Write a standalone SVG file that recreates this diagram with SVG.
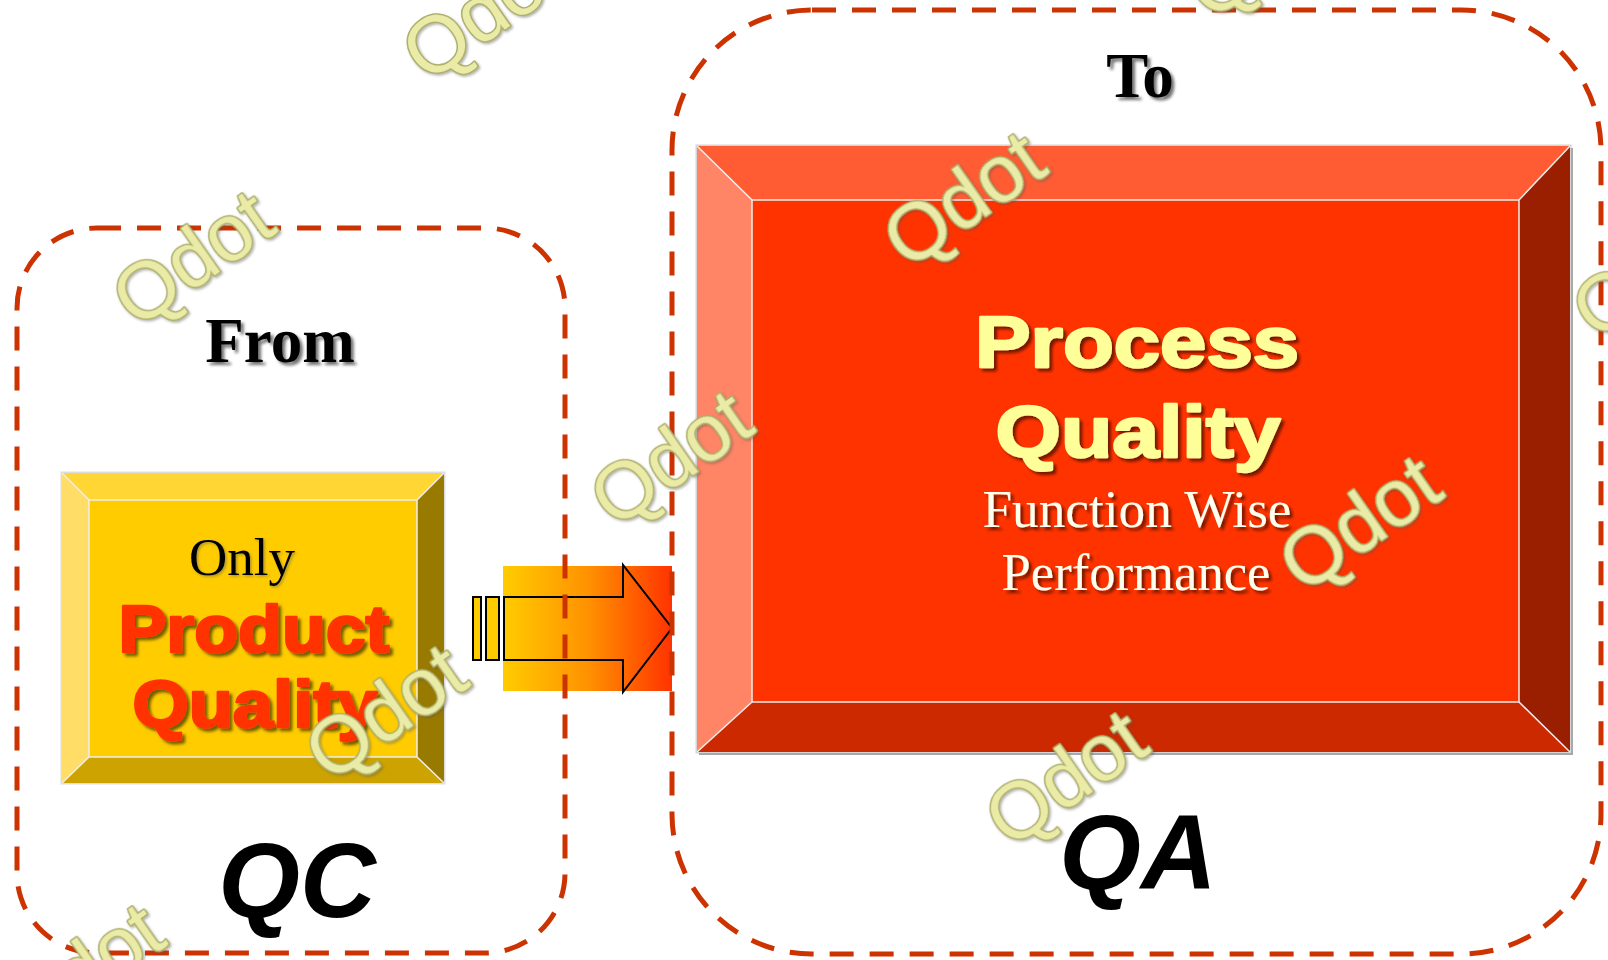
<svg xmlns="http://www.w3.org/2000/svg" width="1608" height="960" viewBox="0 0 1608 960">
  <style>
    .frame { fill: none; stroke: #CC3300; stroke-width: 5; stroke-dasharray: 24 16; }
    .head { font-family: "Liberation Serif", "Times New Roman", serif; font-weight: bold; font-size: 63px; fill: #000; text-anchor: middle; }
    .tag { font-family: "Liberation Sans", Arial, sans-serif; font-weight: bold; font-style: italic; font-size: 105px; fill: #000; text-anchor: middle; }
    .heavy { font-family: "Liberation Sans", Arial, sans-serif; font-weight: bold; text-anchor: middle; stroke-linejoin: round; paint-order: stroke; }
    .serif { font-family: "Liberation Serif", "Times New Roman", serif; text-anchor: middle; }
    .edge { fill: none; stroke: #EEEEEE; stroke-width: 1.5; }
    .wm { font-family: "Liberation Sans", Arial, sans-serif; font-size: 80px; fill: #E9EBA6; stroke: #AEB06C; stroke-width: 3; paint-order: stroke; stroke-linejoin: round; }
  </style>
  <defs>
    <filter id="shadow" x="-10%" y="-20%" width="130%" height="150%">
      <feDropShadow dx="3" dy="3" stdDeviation="1.5" flood-color="#000" flood-opacity="0.55"/>
    </filter>
    <filter id="soft" x="-10%" y="-10%" width="130%" height="130%">
      <feDropShadow dx="1.5" dy="1.5" stdDeviation="1" flood-color="#555" flood-opacity="0.45"/>
    </filter>
    <linearGradient id="flow" x1="0" y1="0" x2="1" y2="0">
      <stop offset="0" stop-color="#FFCC00"/>
      <stop offset="0.5" stop-color="#FF9200"/>
      <stop offset="1" stop-color="#FF3300"/>
    </linearGradient>
  </defs>

  <rect width="1608" height="960" fill="#FFFFFF"/>

  <!-- transition arrow from QC to QA -->
  <g id="connectors">
    <rect x="503" y="566" width="169" height="125" fill="url(#flow)"/>
    <rect x="473" y="597" width="8" height="63" fill="#FFCC00" stroke="#000" stroke-width="2"/>
    <rect x="486" y="597" width="13" height="63" fill="#FFCC00" stroke="#000" stroke-width="2"/>
    <polygon points="504,597 623,597 623,565 672,628 623,692 623,660 504,660" fill="none" stroke="#000" stroke-width="2" stroke-linejoin="miter"/>
  </g>

  <!-- dashed groupings -->
  <g id="qc-frame">
    <rect class="frame" x="17" y="228" width="548" height="725" rx="80" ry="80"/>
    <text class="head" x="280" y="362" filter="url(#shadow)">From</text>
    <text class="tag" x="297" y="917">QC</text>
  </g>
  <g id="qa-frame">
    <rect class="frame" x="672" y="10" width="929" height="944" rx="140" ry="140"/>
    <text class="head" x="1140" y="97" filter="url(#shadow)">To</text>
    <text class="tag" x="1138" y="889" font-size="104">QA</text>
  </g>

  <!-- bevelled yellow block -->
  <g id="product-quality">
    <rect x="62" y="473" width="382" height="310" fill="none" stroke="#DDDDDD" stroke-width="3"/>
    <polygon points="62,473 444,473 417,500 89,500" fill="#FFD633"/>
    <polygon points="62,473 89,500 89,757 62,783" fill="#FFDD66"/>
    <polygon points="444,473 444,783 417,757 417,500" fill="#997A00"/>
    <polygon points="62,783 89,757 417,757 444,783" fill="#CCA300"/>
    <rect x="89" y="500" width="328" height="257" fill="#FFCC00"/>
    <path class="edge" d="M89,500 H417 V757 H89 Z M62,473 L89,500 M444,473 L417,500 M62,783 L89,757 M444,783 L417,757"/>
    <text class="serif" x="242" y="575" font-size="53" fill="#000" filter="url(#soft)">Only</text>
    <text class="heavy" x="254" y="652" font-size="66" fill="#FF3300" stroke="#FF3300" stroke-width="2.5" textLength="271" lengthAdjust="spacingAndGlyphs" filter="url(#shadow)">Product</text>
    <text class="heavy" x="255" y="727" font-size="66" fill="#FF3300" stroke="#FF3300" stroke-width="2.5" textLength="245" lengthAdjust="spacingAndGlyphs" filter="url(#shadow)">Quality</text>
  </g>

  <!-- bevelled red block -->
  <g id="process-quality">
    <rect x="697" y="146" width="873" height="606" fill="none" stroke="#D4D4D4" stroke-width="3"/>
    <path d="M1572,148 V754 H699" fill="none" stroke="#A8A8A8" stroke-width="2"/>
    <polygon points="697,146 1570,146 1519,200 752,200" fill="#FF5C33"/>
    <polygon points="697,146 752,200 752,702 697,752" fill="#FF8566"/>
    <polygon points="1570,146 1570,752 1519,702 1519,200" fill="#991F00"/>
    <polygon points="697,752 752,702 1519,702 1570,752" fill="#CC2900"/>
    <rect x="752" y="200" width="767" height="502" fill="#FF3300"/>
    <path class="edge" d="M752,200 H1519 V702 H752 Z M697,146 L752,200 M1570,146 L1519,200 M697,752 L752,702 M1570,752 L1519,702"/>
    <text class="heavy" x="1137" y="367" font-size="73" fill="#FFFF99" stroke="#FFFF99" stroke-width="2.5" textLength="324" lengthAdjust="spacingAndGlyphs" filter="url(#shadow)">Process</text>
    <text class="heavy" x="1138" y="457" font-size="73" fill="#FFFF99" stroke="#FFFF99" stroke-width="2.5" textLength="285" lengthAdjust="spacingAndGlyphs" filter="url(#shadow)">Quality</text>
    <text class="serif" x="1137" y="527" font-size="52" fill="#FFFFF0" textLength="309" lengthAdjust="spacingAndGlyphs" filter="url(#shadow)">Function Wise</text>
    <text class="serif" x="1136" y="590" font-size="52" fill="#FFFFF0" textLength="269" lengthAdjust="spacingAndGlyphs" filter="url(#shadow)">Performance</text>
  </g>

  <!-- embroidered watermark marks -->
  <g id="watermarks" filter="url(#soft)">
    <text class="wm" transform="translate(427,84) rotate(-35)">Qdot</text>
    <text class="wm" transform="translate(137,330) rotate(-35)">Qdot</text>
    <text class="wm" transform="translate(908,271) rotate(-35)">Qdot</text>
    <text class="wm" transform="translate(615,530) rotate(-35)">Qdot</text>
    <text class="wm" transform="translate(1304,595) rotate(-35)">Qdot</text>
    <text class="wm" transform="translate(1597,342) rotate(-35)">Qdot</text>
    <text class="wm" transform="translate(330,784) rotate(-35)">Qdot</text>
    <text class="wm" transform="translate(1010,850) rotate(-35)">Qdot</text>
    <text class="wm" transform="translate(27,1043) rotate(-35)">Qdot</text>
    <text class="wm" transform="translate(1211,22) rotate(-35)">Qdot</text>
  </g>
</svg>
